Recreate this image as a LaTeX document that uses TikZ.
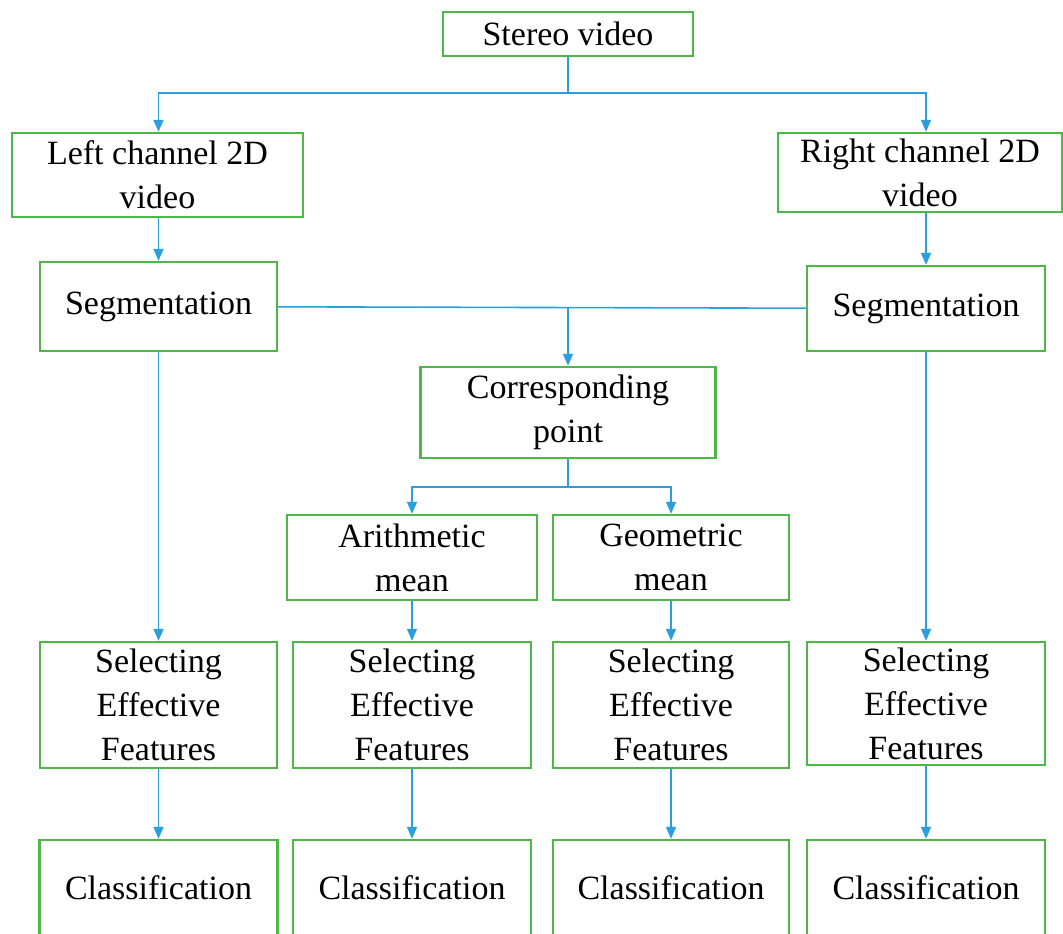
\documentclass[tikz,border=0pt]{standalone}
\usepackage{fontspec}
\setmainfont{Liberation Serif}
\usepackage{tikz}
\usetikzlibrary{arrows.meta,positioning}
\definecolor{Frame}{HTML}{4DB848}
\definecolor{Flow}{HTML}{2A9FDD}

\begin{document}
\begin{tikzpicture}[
    x=0.5pt, y=-0.5pt,
    box/.style={
      draw=Frame, line width=1.2pt, fill=white,
      minimum width=118.5pt, minimum height=42.5pt, align=center,
      inner sep=1pt, font=\fontsize{17}{22}\selectfont
    },
    link/.style={draw=Flow, line width=0.8pt},
    arr/.style={link, -{Triangle[length=6pt,width=5pt]}}
  ]
    \useasboundingbox (0,0) rectangle (1063,933);
    \clip (0,0) rectangle (1063,933);

    \node[box,minimum width=125pt,minimum height=22pt] (stereo) at (568,34) {Stereo video};
    \node[box,minimum width=145.5pt,minimum height=42pt] (leftvid) at (157.5,175) {Left channel 2D\\video};
    \node[box,minimum width=142pt,minimum height=39.5pt] (rightvid) at (920,172.5) {Right channel 2D\\video};
    \node[box,minimum height=44.5pt] (segl) at (158.5,306.5) {Segmentation};
    \node[box,minimum width=119pt] (segr) at (926,308.5) {Segmentation};
    \node[box,minimum width=147.5pt,minimum height=45.5pt] (corr) at (568,412.5) {Corresponding\\point};
    \node[box,minimum width=125pt] (arith) at (412,557.5) {Arithmetic\\mean};
    \node[box,minimum width=118pt] (geo) at (671,557.5) {Geometric\\mean};

    \node[box,minimum height=63pt] (sell) at (158.5,705) {Selecting\\Effective\\Features};
    \node[box,minimum width=119pt,minimum height=63pt] (selam) at (412,705) {Selecting\\Effective\\Features};
    \node[box,minimum width=118pt,minimum height=63pt] (selgm) at (671,705) {Selecting\\Effective\\Features};
    \node[box,minimum width=119pt,minimum height=61.5pt] (selr) at (926,703.5) {Selecting\\Effective\\Features};

    \node[box,minimum width=119pt,minimum height=48pt] (clsl) at (158.5,888) {Classification};
    \node[box,minimum width=119pt,minimum height=48pt] (clsam) at (412,888) {Classification};
    \node[box,minimum width=118pt,minimum height=48pt] (clsgm) at (671,888) {Classification};
    \node[box,minimum width=119pt,minimum height=48pt] (clsr) at (926,888) {Classification};

    % stereo split
    \coordinate (fork) at (568,93);
    \draw[link] (stereo) -- (fork);
    \draw[arr] (fork) -| (leftvid.north -| segl.north);
    \draw[arr] (fork) -| (rightvid.north -| segr.north);
    \draw[arr] (leftvid.south -| segl.north) -- (segl);
    \draw[arr] (rightvid.south -| segr.north) -- (segr);

    % both segmentations feed the matching step
    \draw[link] (segl) -- (segr);
    \coordinate (join) at (segl.east -| corr.north);
    \draw[arr] (join) -- (corr);
    \coordinate (fork2) at (568,487);
    \draw[link] (corr) -- (fork2);
    \draw[arr] (fork2) -| (arith);
    \draw[arr] (fork2) -| (geo);

    \draw[arr] (segl) -- (sell);
    \draw[arr] (arith) -- (selam);
    \draw[arr] (geo) -- (selgm);
    \draw[arr] (segr) -- (selr);

    \draw[arr] (sell) -- (clsl);
    \draw[arr] (selam) -- (clsam);
    \draw[arr] (selgm) -- (clsgm);
    \draw[arr] (selr) -- (clsr);
  \end{tikzpicture}
\end{document}
